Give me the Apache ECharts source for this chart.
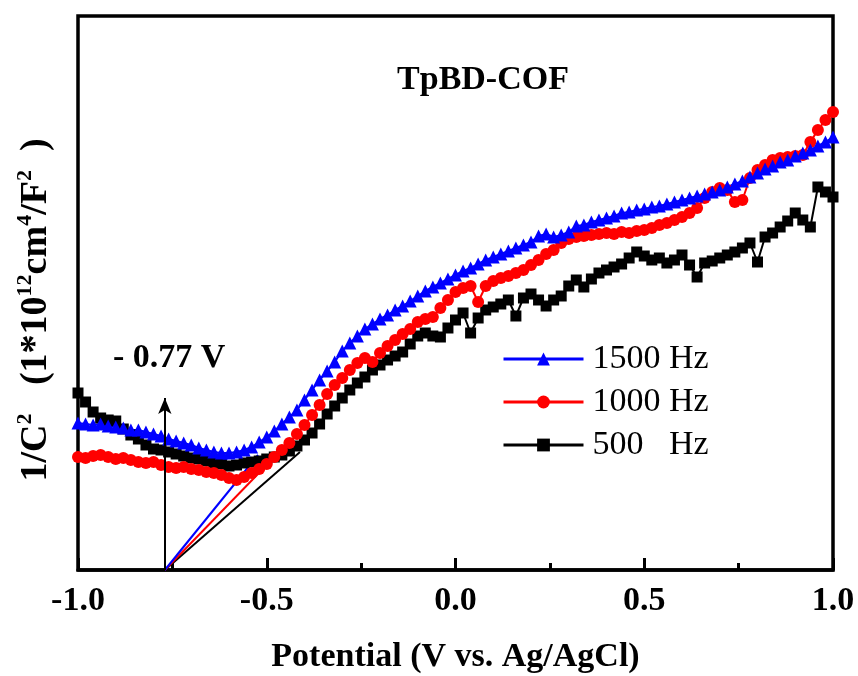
<!DOCTYPE html>
<html><head><meta charset="utf-8">
<script src="https://cdn.jsdelivr.net/npm/echarts@6/dist/echarts.min.js"></script>
<style>html,body{margin:0;padding:0;background:#fff}#c{width:858px;height:676px}</style>
</head><body><div id="c"></div>
<script>
// Potential (V vs. Ag/AgCl)
const potential = [-1.00,-0.98,-0.96,-0.94,-0.92,-0.90,-0.88,-0.86,-0.84,-0.82,
-0.80,-0.78,-0.76,-0.74,-0.72,-0.70,-0.68,-0.66,-0.64,-0.62,
-0.60,-0.58,-0.56,-0.54,-0.52,-0.50,-0.48,-0.46,-0.44,-0.42,
-0.40,-0.38,-0.36,-0.34,-0.32,-0.30,-0.28,-0.26,-0.24,-0.22,
-0.20,-0.18,-0.16,-0.14,-0.12,-0.10,-0.08,-0.06,-0.04,-0.02,
0.00,0.02,0.04,0.06,0.08,0.10,0.12,0.14,0.16,0.18,
0.20,0.22,0.24,0.26,0.28,0.30,0.32,0.34,0.36,0.38,
0.40,0.42,0.44,0.46,0.48,0.50,0.52,0.54,0.56,0.58,
0.60,0.62,0.64,0.66,0.68,0.70,0.72,0.74,0.76,0.78,
0.80,0.82,0.84,0.86,0.88,0.90,0.92,0.94,0.96,0.98,1.00];
// 1/C^2 (arbitrary units)
const hz1500 = [147,146,145,146,144,143,142,140,140,138,
136,134,131,129,127,125,122,120,118,117,
117,118,120,123,128,133,139,146,153,160,
170,180,190,199,208,219,227,234,241,246,
251,255,260,264,269,274,279,283,287,291,
295,299,302,306,310,313,316,319,322,325,
328,334,336,333,335,338,344,345,348,350,
352,354,357,358,360,361,363,364,366,368,
370,372,374,376,378,380,383,386,389,393,
397,401,404,408,410,414,417,420,424,428,433];
const hz1000 = [113,112,114,115,113,111,112,110,108,107,
108,105,103,102,103,101,100,98,97,95,
92,90,93,97,101,106,113,120,127,136,
145,155,165,176,185,192,200,207,212,208,
217,224,230,236,241,248,251,253,262,270,
278,282,284,268,284,289,292,294,297,300,
305,310,316,320,327,331,333,334,335,336,
337,336,338,337,339,340,342,345,347,350,
353,357,362,372,378,382,380,368,370,392,
400,405,410,412,413,414,415,428,440,450,458];
const hz500 = [177,168,158,152,150,149,141,135,131,125,
121,120,118,116,114,112,111,109,107,106,
104,105,107,108,109,111,113,115,119,124,
130,137,146,156,164,172,180,187,193,200,
205,210,214,218,226,234,237,234,233,242,
250,257,237,252,260,263,266,270,254,272,
276,270,264,270,274,284,290,283,291,297,
300,303,306,312,318,314,310,312,307,310,
315,305,293,307,309,312,315,318,322,327,
308,333,337,343,349,357,350,343,383,378,373];
// Tangent lines (extrapolated to the onset potential)
const tangent1500 = [[-0.77,0],[-0.523,115]];
const tangent1000 = [[-0.77,0],[-0.513,100]];
const tangent500 = [[-0.77,0],[-0.412,118]];
const onsetPotential = -0.77;
const arrowTop = 172;
const seriesNames = ['1500 Hz','1000 Hz','500   Hz'];
const yMax = 554;

const serif = 'Liberation Serif, Times New Roman, serif';
const zip = (xs, ys) => xs.map((x, i) => [x, ys[i]]);

const chart = echarts.init(document.getElementById('c'), null, {renderer: 'canvas'});
chart.setOption({
  animation: false,
  backgroundColor: '#fff',
  grid: {left: 78, right: 25, top: 16, bottom: 106, show: true, borderColor: '#000', borderWidth: 3.5,
    backgroundColor: 'transparent', containLabel: false, outerBoundsMode: 'none'},
  xAxis: {
    type: 'value', min: -1, max: 1, interval: 0.5,
    name: 'Potential (V vs. Ag/AgCl)', nameLocation: 'middle', nameGap: 70,
    nameTextStyle: {fontFamily: serif, fontWeight: 'bold', fontSize: 34, color: '#000'},
    axisLine: {show: true, lineStyle: {color: '#000', width: 3.5}},
    axisTick: {show: true, inside: true, length: 12, lineStyle: {color: '#000', width: 3}},
    minorTick: {show: true, splitNumber: 2, length: 7, lineStyle: {color: '#000', width: 3}},
    axisLabel: {fontFamily: serif, fontWeight: 'bold', fontSize: 34, color: '#000', margin: 14,
      formatter: v => v.toFixed(1)},
    splitLine: {show: false}, minorSplitLine: {show: false}
  },
  yAxis: {
    type: 'value', min: 0, max: yMax,
    axisLine: {show: false}, axisTick: {show: false}, axisLabel: {show: false}, splitLine: {show: false}
  },
  legend: {
    data: seriesNames, orient: 'vertical', left: 497, top: 337,
    itemWidth: 80, itemHeight: 16, itemGap: 9,
    lineStyle: {width: 3},
    textStyle: {fontFamily: serif, fontSize: 34, color: '#000', lineHeight: 34, padding: [0, 0, 0, 4]}
  },
  series: [
    {name: seriesNames[2], type: 'line', data: zip(potential, hz500), symbol: 'rect', symbolSize: 11,
     lineStyle: {color: '#000', width: 2}, itemStyle: {color: '#000'}},
    {name: seriesNames[1], type: 'line', data: zip(potential, hz1000), symbol: 'circle', symbolSize: 12,
     lineStyle: {color: '#ff0000', width: 2}, itemStyle: {color: '#ff0000'}},
    {name: seriesNames[0], type: 'line', data: zip(potential, hz1500), symbol: 'triangle', symbolSize: 13,
     lineStyle: {color: '#0000ff', width: 2}, itemStyle: {color: '#0000ff'}},
    {name: 't500', type: 'line', data: tangent500, symbol: 'none', lineStyle: {color: '#000', width: 2}},
    {name: 't1000', type: 'line', data: tangent1000, symbol: 'none', lineStyle: {color: '#ff0000', width: 2}},
    {name: 't1500', type: 'line', data: tangent1500, symbol: 'none', lineStyle: {color: '#0000ff', width: 2},
     markLine: {silent: true, symbol: ['none', 'arrow'], symbolSize: [10, 16], label: {show: false},
       lineStyle: {color: '#000', width: 2, type: 'solid'},
       data: [[{coord: [onsetPotential, 0]}, {coord: [onsetPotential, arrowTop]}]]}}
  ],
  graphic: [
    {type: 'text', x: 483, y: 80, style: {text: 'TpBD-COF', fill: '#000', font: 'bold 34px ' + serif,
      textAlign: 'center', textVerticalAlign: 'middle', align: 'center', verticalAlign: 'middle'}},
    {type: 'text', x: 113, y: 358, style: {text: '- 0.77 V', fill: '#000', font: 'bold 34px ' + serif,
      textAlign: 'left', textVerticalAlign: 'middle', align: 'left', verticalAlign: 'middle'}},
    {type: 'text', x: 36, y: 310, rotation: Math.PI / 2, style: {
      text: '1/C{s|2}   (1*10{s|12}cm{s|4}/F{s|2}  )', fill: '#000',
      fontFamily: serif, fontWeight: 'bold', fontSize: 38, lineHeight: 44,
      textAlign: 'center', textVerticalAlign: 'middle', align: 'center', verticalAlign: 'middle',
      rich: {s: {fontFamily: serif, fontWeight: 'bold', fontSize: 22, verticalAlign: 'top', lineHeight: 22, fill: '#000'}}
    }}
  ]
});
</script></body></html>
